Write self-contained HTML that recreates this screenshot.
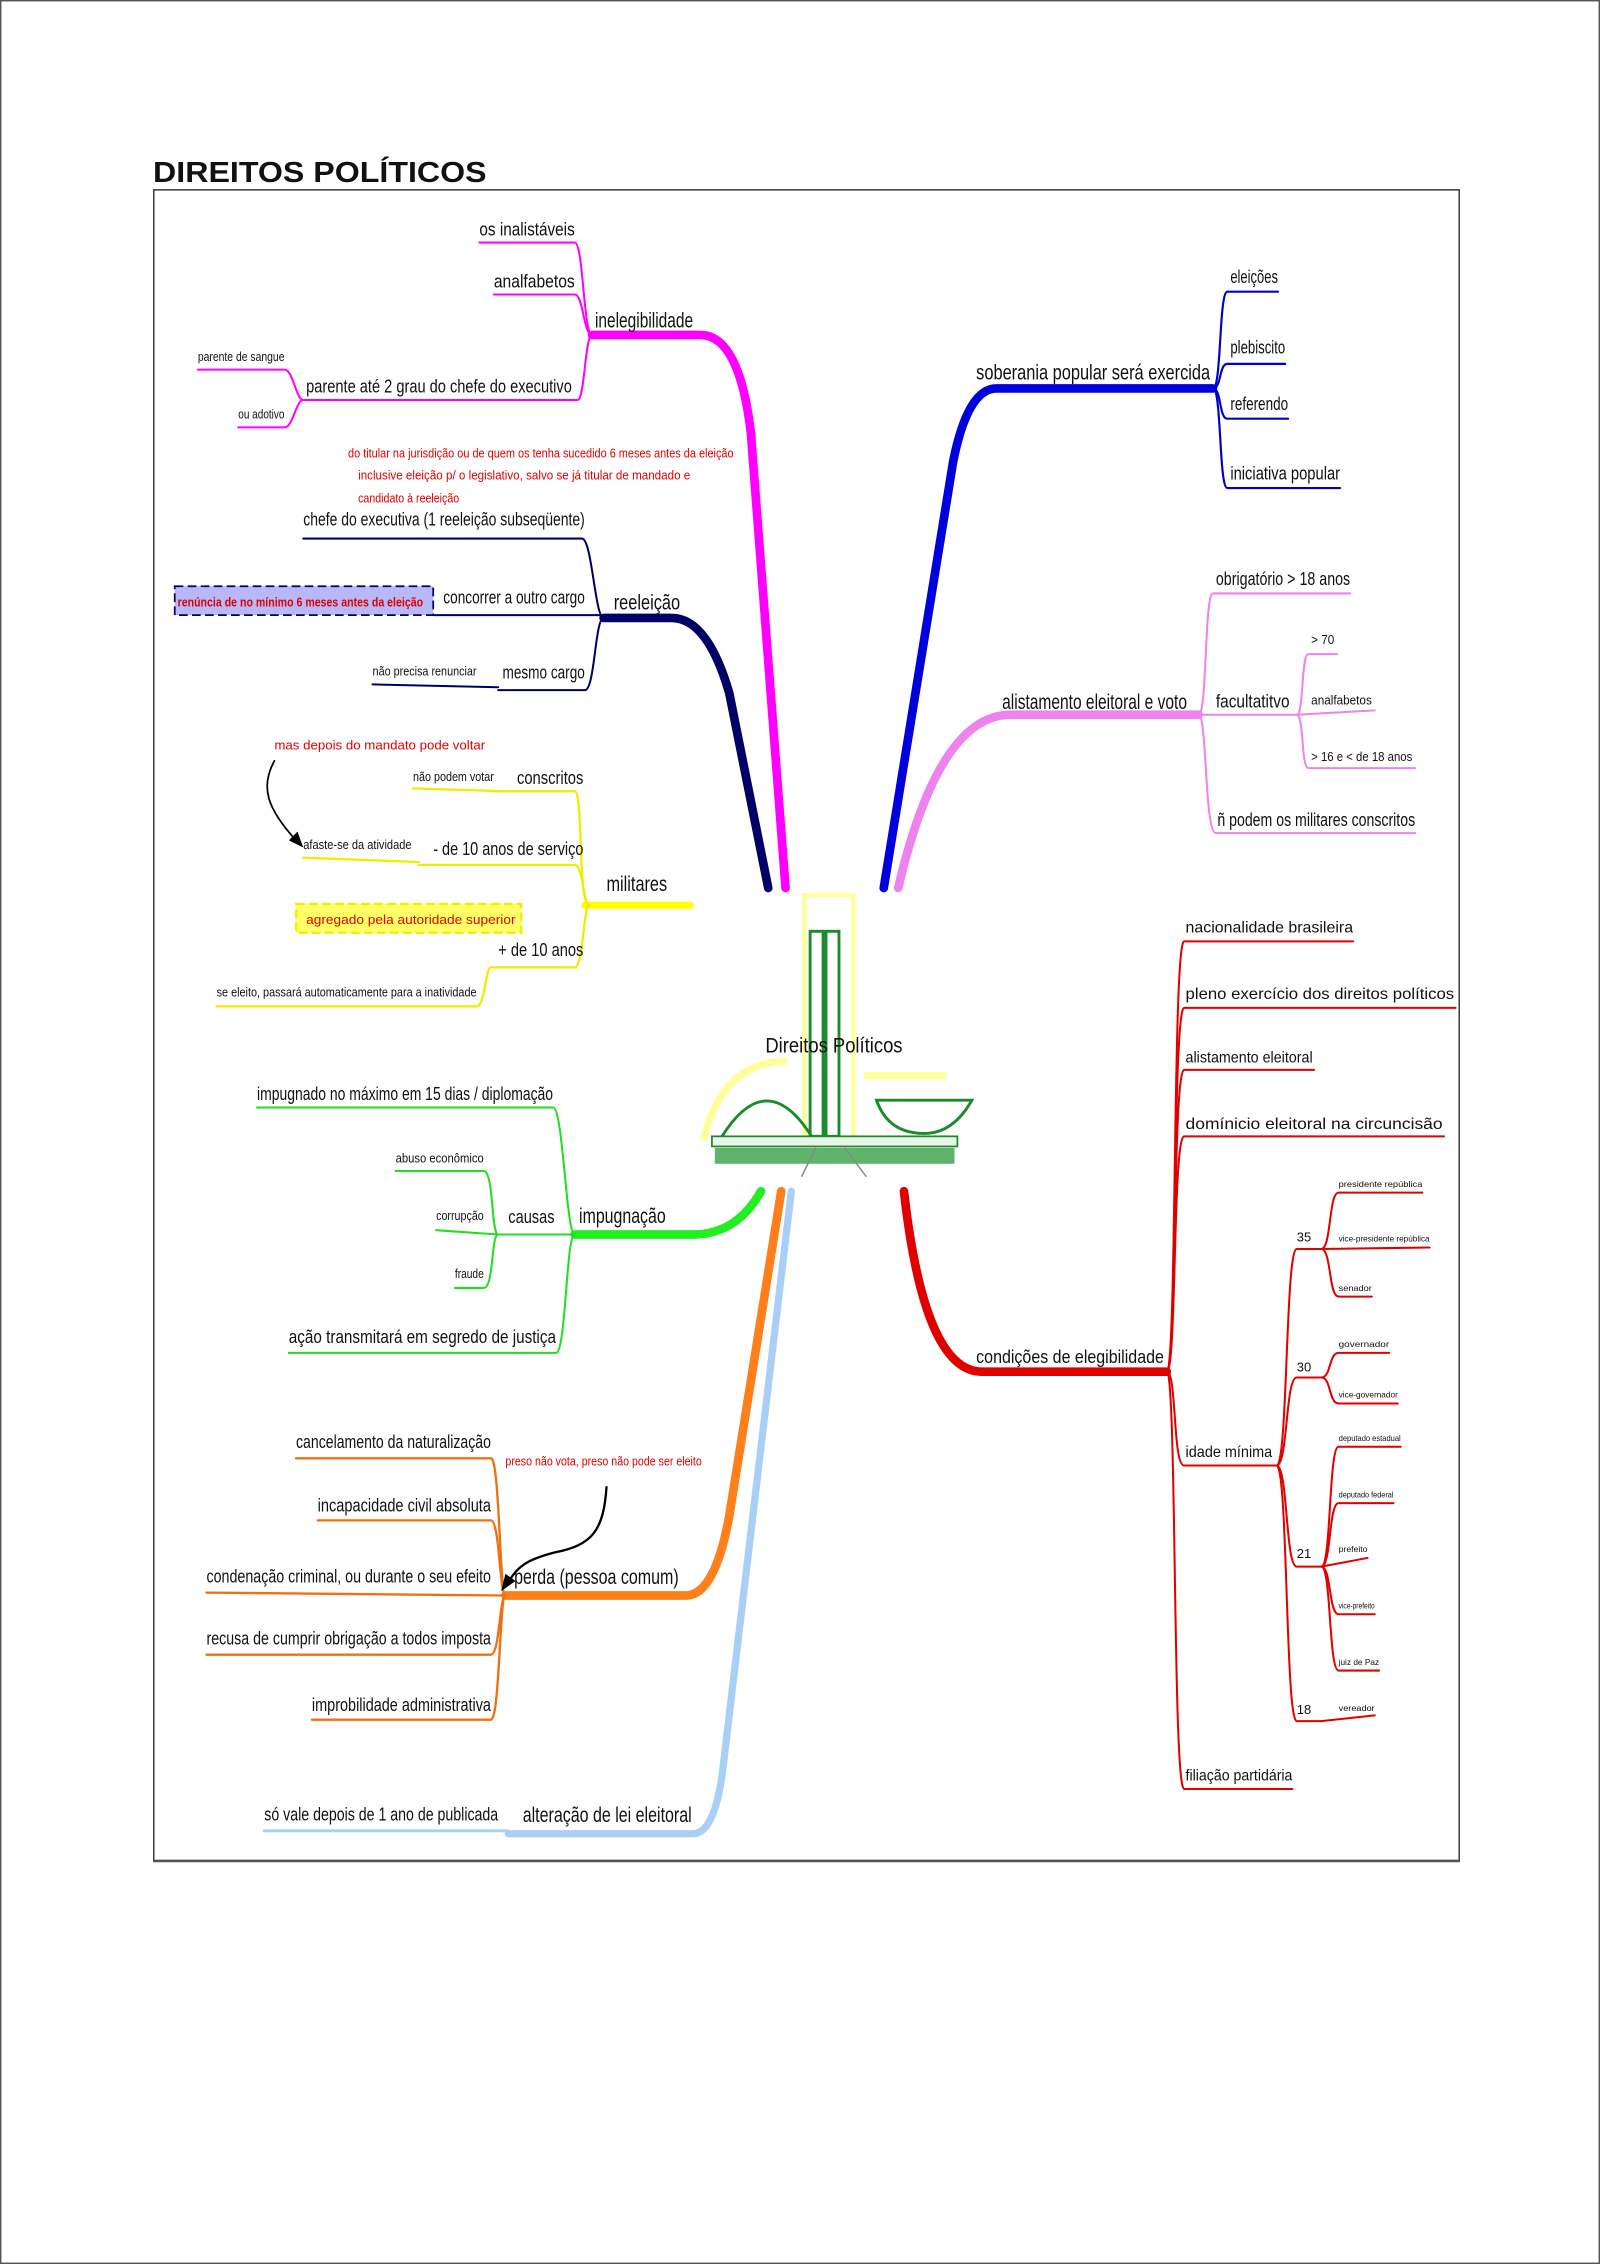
<!DOCTYPE html>
<html><head><meta charset="utf-8">
<style>
html,body{margin:0;padding:0;background:#fff;}
svg{display:block;}
text{font-family:"Liberation Sans",Arial,sans-serif;fill:#111;}
.c{font-size:13px;}
.m{font-size:15px;}
.s{font-size:9px;}
.r{fill:#e00000;}
</style></head>
<body>
<svg width="1600" height="2264" viewBox="0 0 1108 1568" preserveAspectRatio="none" xmlns="http://www.w3.org/2000/svg">
<rect x="0.5" y="0.5" width="1107" height="1567" fill="#fff" stroke="#555" stroke-width="1"/>
<text x="106" y="126" font-size="20" font-weight="bold" textLength="231" lengthAdjust="spacingAndGlyphs">DIREITOS POLÍTICOS</text>
<rect x="106.5" y="131.5" width="904" height="1157" fill="none" stroke="#333" stroke-width="1"/>
<line x1="106" y1="1289" x2="1011" y2="1289" stroke="#555" stroke-width="1.5"/>

<g fill="none" stroke-linecap="round">
<!-- magenta -->
<path d="M544,615 L520,300 Q512,232 485,232 L410,232" stroke="#ff00ff" stroke-width="6"/>
<g stroke="#ff00ff" stroke-width="1.4">
<path d="M332,168 L398,168 C404,168 404,232 410,232"/>
<path d="M342,204 L398,204 C404,204 404,232 410,232"/>
<path d="M210,277 L400,277 C405,277 405,232 410,232"/>
<path d="M137,256 L197,256 C203,256 205,277 210,277"/>
<path d="M165,296 L197,296 C203,296 205,277 210,277"/>
</g>
<!-- navy -->
<path d="M532,615 L505,480 Q490,428 465,428 L418,428" stroke="#000066" stroke-width="6"/>
<g stroke="#000066" stroke-width="1.4">
<path d="M210,373 L403,373 C410,373 412,428 418,428"/>
<path d="M300,426 L418,426"/>
<path d="M345,478 L405,478 C412,478 412,428 418,428"/>
<path d="M258,474 L345,476"/>
</g>
<!-- yellow -->
<path d="M405,627 L478,627" stroke="#ffff00" stroke-width="5"/>
<g stroke="#eeee00" stroke-width="1.6">
<path d="M340,548 L398,548 C404,548 400,627 408,627"/>
<path d="M290,599 L398,599 C404,599 404,627 408,627"/>
<path d="M340,670 L398,670 C404,670 404,627 408,627"/>
<path d="M286,546 L350,548"/>
<path d="M210,594 L290,597"/>
<path d="M150,697 L330,697 C336,697 336,670 340,670"/>
</g>
<!-- green -->
<path d="M527,825 Q510,855 480,855 L398,855" stroke="#22ee22" stroke-width="6"/>
<g stroke="#22dd22" stroke-width="1.4">
<path d="M178,767 L383,767 C390,767 392,855 398,855"/>
<path d="M345,855 L398,855"/>
<path d="M200,937 L385,937 C392,937 392,855 398,855"/>
<path d="M274,811 L335,811 C342,811 340,855 345,855"/>
<path d="M302,852 L345,855"/>
<path d="M315,892 L335,892 C342,892 340,855 345,855"/>
</g>
<!-- orange -->
<path d="M541,825 L505,1050 Q495,1105 475,1105 L350,1105" stroke="#ff7f1a" stroke-width="6"/>
<g stroke="#f07010" stroke-width="1.6">
<path d="M205,1010 L340,1010 C346,1010 346,1105 350,1105"/>
<path d="M220,1053 L340,1053 C346,1053 346,1105 350,1105"/>
<path d="M143,1103 L350,1105"/>
<path d="M143,1146 L340,1146 C346,1146 346,1105 350,1105"/>
<path d="M216,1191 L340,1191 C346,1191 346,1105 350,1105"/>
</g>
<!-- light blue -->
<path d="M548,825 L500,1230 Q494,1270 480,1270 L352,1270" stroke="#a8cff5" stroke-width="5"/>
<path d="M183,1268 L352,1268" stroke="#a8cff5" stroke-width="2"/>
<!-- blue -->
<path d="M612,615 L660,320 Q670,269 690,269 L840,269" stroke="#0000dd" stroke-width="6"/>
<g stroke="#0000cc" stroke-width="1.5">
<path d="M840,269 C846,269 844,202 850,202 L885,202"/>
<path d="M840,269 C846,269 844,252 850,252 L890,252"/>
<path d="M840,269 C846,269 844,290 850,290 L892,290"/>
<path d="M840,269 C846,269 844,338 850,338 L928,338"/>
</g>
<!-- pink -->
<path d="M622,615 Q650,495 700,495 L830,495" stroke="#ee82ee" stroke-width="6"/>
<g stroke="#ee82ee" stroke-width="1.4">
<path d="M830,495 C836,495 834,411 840,411 L935,411"/>
<path d="M830,495 L900,495"/>
<path d="M830,495 C836,495 834,577 842,577 L980,577"/>
<path d="M898,495 C903,495 901,453 906,453 L926,453"/>
<path d="M898,495 L952,492"/>
<path d="M898,495 C903,495 901,532 906,532 L980,532"/>
</g>
<!-- red -->
<path d="M626,825 Q640,950 680,950 L808,950" stroke="#e00000" stroke-width="6"/>
<g stroke="#e00000" stroke-width="1.4">
<path d="M808,950 C815,950 812,652 820,652 L937,652"/>
<path d="M808,950 C815,950 812,698 820,698 L1008,698"/>
<path d="M808,950 C815,950 812,741 820,741 L910,741"/>
<path d="M808,950 C815,950 812,787 820,787 L1000,787"/>
<path d="M808,950 C815,950 812,1015 820,1015 L884,1015"/>
<path d="M808,950 C815,950 812,1239 820,1239 L895,1239"/>
<path d="M884,1015 C892,1015 890,865 898,865 L915,865"/>
<path d="M884,1015 C892,1015 890,954 898,954 L915,954"/>
<path d="M884,1015 C892,1015 890,1085 898,1085 L915,1085"/>
<path d="M884,1015 C892,1015 890,1192 898,1192 L915,1192"/>
<path d="M915,865 C922,865 920,826 927,826 L985,826"/>
<path d="M915,865 L990,864"/>
<path d="M915,865 C922,865 920,898 927,898 L950,898"/>
<path d="M915,954 C922,954 920,937 927,937 L962,937"/>
<path d="M915,954 C922,954 920,972 927,972 L968,972"/>
<path d="M915,1085 C922,1085 920,1002 927,1002 L970,1002"/>
<path d="M915,1085 C922,1085 920,1041 927,1041 L965,1041"/>
<path d="M915,1085 L947,1079"/>
<path d="M915,1085 C922,1085 920,1118 927,1118 L952,1118"/>
<path d="M915,1085 C922,1085 920,1157 927,1157 L955,1157"/>
<path d="M915,1192 L952,1188"/>
</g>
<!-- arrows -->
<path d="M190,527 C180,545 185,560 205,582" stroke="#000" stroke-width="1.2"/>
<path d="M420,1030 C418,1060 410,1070 385,1075 C365,1080 358,1085 352,1096" stroke="#000" stroke-width="1.6"/>
</g>
<polygon points="210,587 200,582 206,576" fill="#000"/>
<polygon points="347,1102 350,1090 357,1095" fill="#000"/>

<!-- annotation boxes -->
<rect x="121" y="406" width="179" height="20" fill="#b8b8f8" stroke="#000066" stroke-width="1.2" stroke-dasharray="6,3"/>
<text x="123" y="420" font-size="9" font-weight="bold" class="r" textLength="170" lengthAdjust="spacingAndGlyphs">renúncia de no mínimo 6 meses antes da eleição</text>
<rect x="205" y="626" width="156" height="20" fill="#ffff66" stroke="#eeee00" stroke-width="1.5" stroke-dasharray="6,3"/>
<text x="212" y="640" font-size="9" class="r" textLength="145" lengthAdjust="spacingAndGlyphs">agregado pela autoridade superior</text>

<!-- center image -->
<g>
<rect x="557" y="620" width="34" height="170" fill="none" stroke="#ffff99" stroke-width="3"/>
<path d="M487,790 Q500,735 545,735" fill="none" stroke="#ffff99" stroke-width="5"/>
<path d="M598,745 L655,745" stroke="#ffff99" stroke-width="5"/>
<rect x="561" y="645" width="9" height="142" fill="none" stroke="#1a8a2a" stroke-width="2"/>
<rect x="572" y="645" width="9" height="142" fill="none" stroke="#1a8a2a" stroke-width="2"/>
<path d="M500,787 Q531,738 562,787" fill="none" stroke="#1a8a2a" stroke-width="2"/>
<path d="M607,762 L673,762 Q660,785 640,785 Q615,785 607,762 Z" fill="none" stroke="#1a8a2a" stroke-width="2"/>
<rect x="493" y="787" width="170" height="7" fill="#e8f5e8" stroke="#1a8a2a" stroke-width="1.2"/>
<rect x="495" y="795" width="166" height="11" fill="#2a9a3a" opacity="0.75"/>
<path d="M565,795 L555,815 M585,795 L600,815" stroke="#888" stroke-width="1"/>
</g>
<text x="530" y="729" class="m" textLength="95" lengthAdjust="spacingAndGlyphs">Direitos Políticos</text>

<!-- left labels -->
<text x="412" y="227" class="m" textLength="68" lengthAdjust="spacingAndGlyphs">inelegibilidade</text>
<text x="332" y="163" class="c" textLength="66" lengthAdjust="spacingAndGlyphs">os inalistáveis</text>
<text x="342" y="199" class="c" textLength="56" lengthAdjust="spacingAndGlyphs">analfabetos</text>
<text x="212" y="272" class="c" textLength="184" lengthAdjust="spacingAndGlyphs">parente até 2 grau do chefe do executivo</text>
<text x="137" y="250" class="s" textLength="60" lengthAdjust="spacingAndGlyphs">parente de sangue</text>
<text x="165" y="290" class="s" textLength="32" lengthAdjust="spacingAndGlyphs">ou adotivo</text>
<text x="241" y="317" class="s r" textLength="267" lengthAdjust="spacingAndGlyphs">do titular na jurisdição ou de quem os tenha sucedido 6 meses antes da eleição</text>
<text x="248" y="332" class="s r" textLength="230" lengthAdjust="spacingAndGlyphs">inclusive eleição p/ o legislativo, salvo se já titular de mandado e</text>
<text x="248" y="348" class="s r" textLength="70" lengthAdjust="spacingAndGlyphs">candidato à reeleição</text>
<text x="210" y="364" class="c" textLength="195" lengthAdjust="spacingAndGlyphs">chefe do executiva (1 reeleição subseqüente)</text>
<text x="425" y="422" class="m" textLength="46" lengthAdjust="spacingAndGlyphs">reeleição</text>
<text x="307" y="418" class="c" textLength="98" lengthAdjust="spacingAndGlyphs">concorrer a outro cargo</text>
<text x="348" y="470" class="c" textLength="57" lengthAdjust="spacingAndGlyphs">mesmo cargo</text>
<text x="258" y="468" class="s" textLength="72" lengthAdjust="spacingAndGlyphs">não precisa renunciar</text>
<text x="190" y="519" class="s r" textLength="146" lengthAdjust="spacingAndGlyphs">mas depois do mandato pode voltar</text>
<text x="420" y="617" class="m" textLength="42" lengthAdjust="spacingAndGlyphs">militares</text>
<text x="358" y="543" class="c" textLength="46" lengthAdjust="spacingAndGlyphs">conscritos</text>
<text x="286" y="541" class="s" textLength="56" lengthAdjust="spacingAndGlyphs">não podem votar</text>
<text x="300" y="592" class="c" textLength="104" lengthAdjust="spacingAndGlyphs">- de 10 anos de serviço</text>
<text x="210" y="588" class="s" textLength="75" lengthAdjust="spacingAndGlyphs">afaste-se da atividade</text>
<text x="345" y="662" class="c" textLength="59" lengthAdjust="spacingAndGlyphs">+ de 10 anos</text>
<text x="150" y="690" class="s" textLength="180" lengthAdjust="spacingAndGlyphs">se eleito, passará automaticamente para a inatividade</text>
<text x="178" y="762" class="c" textLength="205" lengthAdjust="spacingAndGlyphs">impugnado no máximo em 15 dias / diplomação</text>
<text x="401" y="847" class="m" textLength="60" lengthAdjust="spacingAndGlyphs">impugnação</text>
<text x="352" y="847" class="c" textLength="32" lengthAdjust="spacingAndGlyphs">causas</text>
<text x="274" y="805" class="s" textLength="61" lengthAdjust="spacingAndGlyphs">abuso econômico</text>
<text x="302" y="845" class="s" textLength="33" lengthAdjust="spacingAndGlyphs">corrupção</text>
<text x="315" y="885" class="s" textLength="20" lengthAdjust="spacingAndGlyphs">fraude</text>
<text x="200" y="930" class="c" textLength="185" lengthAdjust="spacingAndGlyphs">ação transmitará em segredo de justiça</text>
<text x="205" y="1003" class="c" textLength="135" lengthAdjust="spacingAndGlyphs">cancelamento da naturalização</text>
<text x="350" y="1015" class="s r" textLength="136" lengthAdjust="spacingAndGlyphs">preso não vota, preso não pode ser eleito</text>
<text x="220" y="1047" class="c" textLength="120" lengthAdjust="spacingAndGlyphs">incapacidade civil absoluta</text>
<text x="143" y="1096" class="c" textLength="197" lengthAdjust="spacingAndGlyphs">condenação criminal, ou durante o seu efeito</text>
<text x="356" y="1097" class="m" textLength="114" lengthAdjust="spacingAndGlyphs">perda (pessoa comum)</text>
<text x="143" y="1139" class="c" textLength="197" lengthAdjust="spacingAndGlyphs">recusa de cumprir obrigação a todos imposta</text>
<text x="216" y="1185" class="c" textLength="124" lengthAdjust="spacingAndGlyphs">improbilidade administrativa</text>
<text x="183" y="1261" class="c" textLength="162" lengthAdjust="spacingAndGlyphs">só vale depois de 1 ano de publicada</text>
<text x="362" y="1262" class="m" textLength="117" lengthAdjust="spacingAndGlyphs">alteração de lei eleitoral</text>

<!-- right labels -->
<text x="676" y="263" class="m" textLength="162" lengthAdjust="spacingAndGlyphs">soberania popular será exercida</text>
<text x="852" y="196" class="c" textLength="33" lengthAdjust="spacingAndGlyphs">eleições</text>
<text x="852" y="245" class="c" textLength="38" lengthAdjust="spacingAndGlyphs">plebiscito</text>
<text x="852" y="284" class="c" textLength="40" lengthAdjust="spacingAndGlyphs">referendo</text>
<text x="852" y="332" class="c" textLength="76" lengthAdjust="spacingAndGlyphs">iniciativa popular</text>
<text x="694" y="491" class="m" textLength="128" lengthAdjust="spacingAndGlyphs">alistamento eleitoral e voto</text>
<text x="842" y="405" class="c" textLength="93" lengthAdjust="spacingAndGlyphs">obrigatório &gt; 18 anos</text>
<text x="842" y="490" class="c" textLength="51" lengthAdjust="spacingAndGlyphs">facultatitvo</text>
<text x="908" y="446" class="s" textLength="16" lengthAdjust="spacingAndGlyphs">&gt; 70</text>
<text x="908" y="488" class="s" textLength="42" lengthAdjust="spacingAndGlyphs">analfabetos</text>
<text x="908" y="527" class="s" textLength="70" lengthAdjust="spacingAndGlyphs">&gt; 16 e &lt; de 18 anos</text>
<text x="843" y="572" class="c" textLength="137" lengthAdjust="spacingAndGlyphs">ñ podem os militares conscritos</text>
<text x="676" y="944" class="c" textLength="130" lengthAdjust="spacingAndGlyphs">condições de elegibilidade</text>
<text x="821" y="646" font-size="11" textLength="116" lengthAdjust="spacingAndGlyphs">nacionalidade brasileira</text>
<text x="821" y="692" font-size="11" textLength="186" lengthAdjust="spacingAndGlyphs">pleno exercício dos direitos políticos</text>
<text x="821" y="736" font-size="11" textLength="88" lengthAdjust="spacingAndGlyphs">alistamento eleitoral</text>
<text x="821" y="782" font-size="11" textLength="178" lengthAdjust="spacingAndGlyphs">domínicio eleitoral na circuncisão</text>
<text x="821" y="1009" font-size="11" textLength="60" lengthAdjust="spacingAndGlyphs">idade mínima</text>
<text x="821" y="1233" font-size="11" textLength="74" lengthAdjust="spacingAndGlyphs">filiação partidária</text>
<text x="898" y="860" font-size="9">35</text>
<text x="898" y="950" font-size="9">30</text>
<text x="898" y="1079" font-size="9">21</text>
<text x="898" y="1187" font-size="9">18</text>
<g font-size="6">
<text x="927" y="822" textLength="58" lengthAdjust="spacingAndGlyphs">presidente república</text>
<text x="927" y="860" textLength="63" lengthAdjust="spacingAndGlyphs">vice-presidente república</text>
<text x="927" y="894" textLength="23" lengthAdjust="spacingAndGlyphs">senador</text>
<text x="927" y="933" textLength="35" lengthAdjust="spacingAndGlyphs">governador</text>
<text x="927" y="968" textLength="41" lengthAdjust="spacingAndGlyphs">vice-governador</text>
<text x="927" y="998" textLength="43" lengthAdjust="spacingAndGlyphs">deputado estadual</text>
<text x="927" y="1037" textLength="38" lengthAdjust="spacingAndGlyphs">deputado federal</text>
<text x="927" y="1075" textLength="20" lengthAdjust="spacingAndGlyphs">prefeito</text>
<text x="927" y="1114" textLength="25" lengthAdjust="spacingAndGlyphs">vice-prefeito</text>
<text x="927" y="1153" textLength="28" lengthAdjust="spacingAndGlyphs">juiz de Paz</text>
<text x="927" y="1185" textLength="25" lengthAdjust="spacingAndGlyphs">vereador</text>
</g>
</svg>
</body></html>
